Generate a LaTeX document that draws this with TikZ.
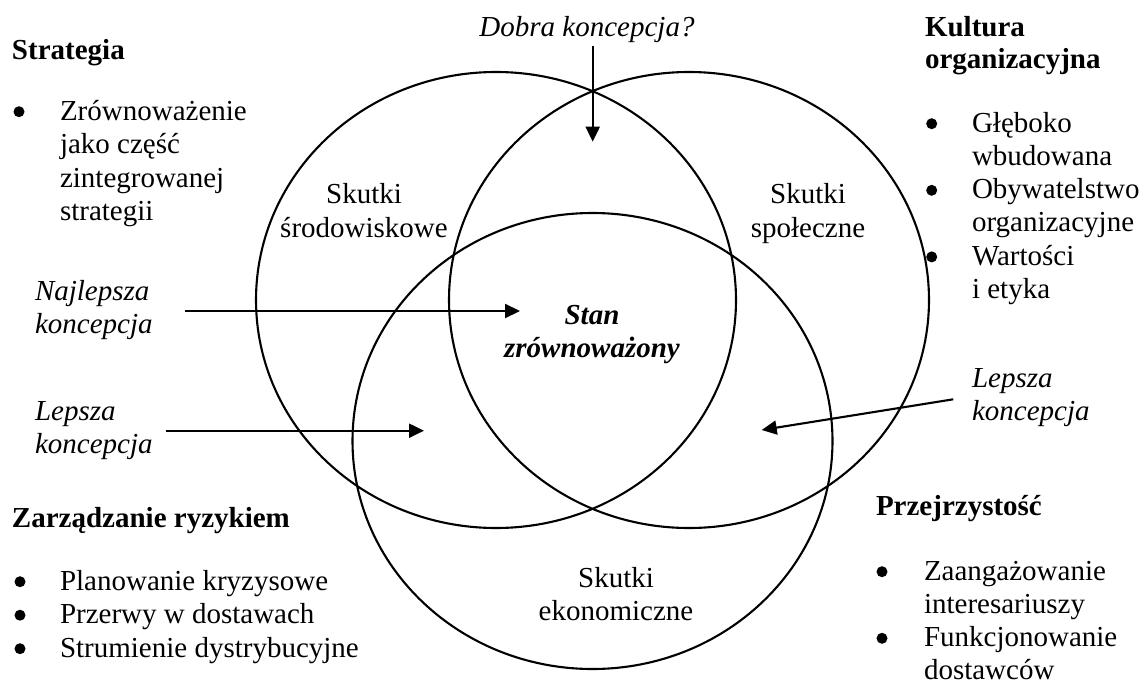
\documentclass[tikz,border=0pt]{standalone}
\usepackage{fontspec}
\setmainfont{Liberation Serif}
\usetikzlibrary{arrows.meta}
\begin{document}
\begin{tikzpicture}[x=1pt,y=-1pt,
  every node/.style={inner sep=0pt, outer sep=0pt},
  txt/.style={anchor=base west, font=\fontsize{29}{33.3}\selectfont},
  ctxt/.style={anchor=base, font=\fontsize{29}{33.3}\selectfont},
  hdr/.style={anchor=base west, font=\fontsize{29}{33.3}\selectfont\bfseries},
  ital/.style={anchor=base west, font=\fontsize{29}{33.3}\selectfont\itshape},
  bital/.style={anchor=base, font=\fontsize{29}{33.3}\selectfont\bfseries\itshape},
  ring/.style={draw=black, line width=2.1pt},
  arr/.style={line width=2.1pt, -{Triangle[length=15pt,width=14pt]}},
  dot/.style={circle, fill=black, minimum size=11pt}
]
\useasboundingbox (0,0) rectangle (1144,680);
\fill[white] (0,0) rectangle (1144,680);

% three circles
\draw[ring] (496,300) ellipse [x radius=240pt, y radius=228pt];
\draw[ring] (689,300) ellipse [x radius=240pt, y radius=228pt];
\draw[ring] (592.5,441) ellipse [x radius=240pt, y radius=228pt];

% circle labels
\node[ctxt] (e1) at (364,203) {Skutki};
\node[ctxt] (e2) at (364,237) {środowiskowe};
\node[ctxt] (s1) at (808,203) {Skutki};
\node[ctxt] (s2) at (808,237) {społeczne};
\node[ctxt] (k1) at (616,587) {Skutki};
\node[ctxt] (k2) at (616,620) {ekonomiczne};
\node[bital] (st1) at (592,324) {Stan};
\node[bital] (st2) at (592,357) {zrównoważony};

% Strategia
\node[hdr] (strat) at (12,59) {Strategia};
\node[dot] (sb1) at (19,111.7) {};
\foreach \t [count=\i] in {Zrównoważenie,jako część,zintegrowanej,strategii}
  \node[txt] (sl\i) at (60,{120+(\i-1)*33.6}) {\t};

% Kultura organizacyjna
\node[hdr] (kult1) at (925,36) {Kultura};
\node[hdr] (kult2) at (925,68.3) {organizacyjna};
\foreach \t [count=\i] in {Głęboko,wbudowana,Obywatelstwo,organizacyjne,Wartości,i etyka}
  \node[txt] (kl\i) at (972,{132+(\i-1)*33.3}) {\t};
\node[dot] (kb1) at (931.7,123.7) {};
\node[dot] (kb2) at (931.7,190.3) {};
\node[dot] (kb3) at (931.7,256.9) {};

% Zarzadzanie ryzykiem
\node[hdr] (zarz) at (12,527) {Zarządzanie ryzykiem};
\foreach \t [count=\i] in {Planowanie kryzysowe,Przerwy w dostawach,Strumienie dystrybucyjne}
  \node[txt] (zl\i) at (60,{590+(\i-1)*33.5}) {\t};
\node[dot] (zb1) at (20,581.7) {};
\node[dot] (zb2) at (20,615.2) {};
\node[dot] (zb3) at (20,648.7) {};

% Przejrzystosc
\node[hdr] (przej) at (876,515) {Przejrzystość};
\foreach \t [count=\i] in {Zaangażowanie,interesariuszy,Funkcjonowanie,dostawców}
  \node[txt] (pl\i) at (924,{580+(\i-1)*33.3}) {\t};
\node[dot] (pb1) at (882,571.7) {};
\node[dot] (pb2) at (882,638.3) {};

% concept labels
\node[ital, anchor=base] (dobra) at (587,36) {Dobra koncepcja?};
\node[ital] (naj1) at (35,300) {Najlepsza};
\node[ital] (naj2) at (35,333.3) {koncepcja};
\node[ital] (lepL1) at (35,420) {Lepsza};
\node[ital] (lepL2) at (35,453.3) {koncepcja};
\node[ital] (lepR1) at (972,387) {Lepsza};
\node[ital] (lepR2) at (972,420.3) {koncepcja};

% arrows
\coordinate (dobraS) at (592.7,46);
\coordinate (dobraE) at (592.7,141.7);
\coordinate (najS) at (185,311);
\coordinate (najE) at (520,311);
\coordinate (lepLS) at (165.7,430.7);
\coordinate (lepLE) at (424,430.7);
\coordinate (lepRS) at (953.3,399.3);
\coordinate (lepRE) at (761.7,430);
\draw[arr] (dobraS) -- (dobraE);
\draw[arr] (najS) -- (najE);
\draw[arr] (lepLS) -- (lepLE);
\draw[arr] (lepRS) -- (lepRE);
\end{tikzpicture}
\end{document}
